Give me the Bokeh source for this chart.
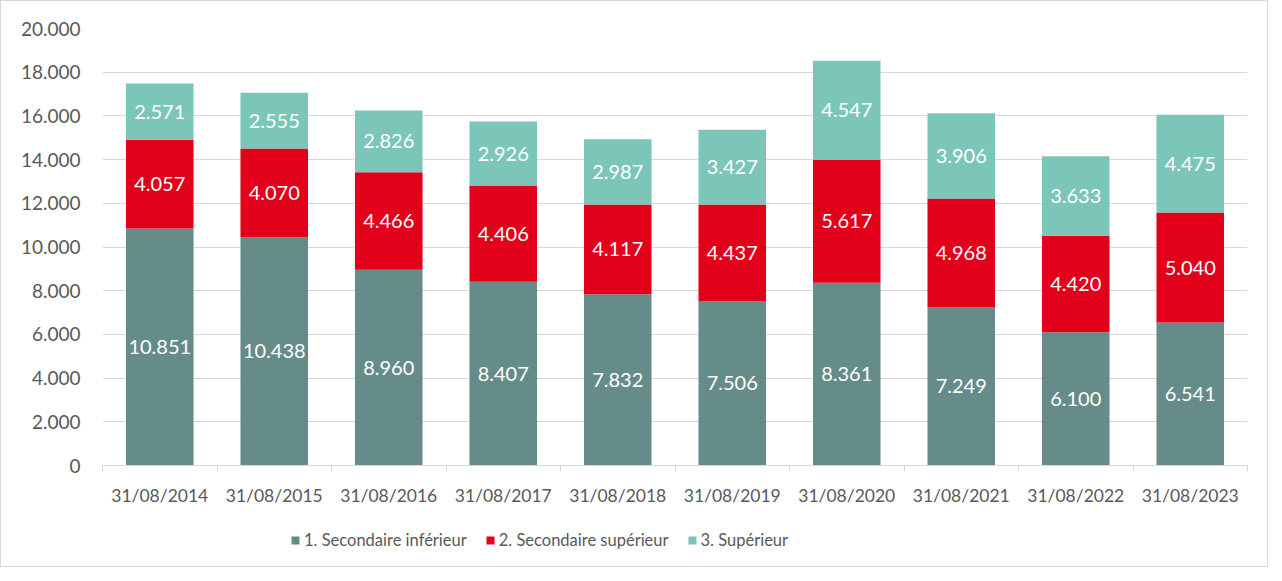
from bokeh.plotting import figure
from bokeh.layouts import column
from bokeh.models import ColumnDataSource, Range1d, FixedTicker, Legend, LegendItem
from bokeh.core.properties import value
from bokeh.embed import file_html
from bokeh.resources import INLINE

dates = ["31/08/2014", "31/08/2015", "31/08/2016", "31/08/2017", "31/08/2018",
         "31/08/2019", "31/08/2020", "31/08/2021", "31/08/2022", "31/08/2023"]
sec_inf = [10851, 10438, 8960, 8407, 7832, 7506, 8361, 7249, 6100, 6541]
sec_sup = [4057, 4070, 4466, 4406, 4117, 4437, 5617, 4968, 4420, 5040]
superieur = [2571, 2555, 2826, 2926, 2987, 3427, 4547, 3906, 3633, 4475]
series_names = ["1. Secondaire inférieur", "2. Secondaire supérieur", "3. Supérieur"]
colors = ["#668C89", "#E2001A", "#7BC6B9"]
y_ticks = list(range(0, 20001, 2000))

FONT = "Lato"
GRAY = "#595959"
W = 1266


def fmt(v):
    return f"{v:,}".replace(",", ".")


xs = [i + 0.5 for i in range(len(dates))]
src = ColumnDataSource(dict(x=xs, a=sec_inf, b=sec_sup, c=superieur))

p = figure(width=W, height=512, output_backend="svg", toolbar_location=None,
           x_range=Range1d(0, len(dates)), y_range=Range1d(0, 20000),
           min_border_left=101, min_border_right=20, min_border_top=27, min_border_bottom=48)
p.outline_line_color = None

p.vbar_stack(["a", "b", "c"], x="x", width=0.59, color=colors, line_color=None, source=src)

# data labels
for vals, base in [(sec_inf, [0] * 10),
                   (sec_sup, sec_inf),
                   (superieur, [a + b for a, b in zip(sec_inf, sec_sup)])]:
    ys = [b + v / 2 for b, v in zip(base, vals)]
    p.text(x=xs, y=ys, text=[fmt(v) for v in vals], text_color="white",
           text_font=value(FONT), text_font_size="20px",
           text_align="center", text_baseline="middle")

# y axis
p.yaxis.ticker = FixedTicker(ticks=y_ticks)
p.yaxis.major_label_overrides = {t: fmt(t) for t in y_ticks}
p.yaxis.axis_line_color = None
p.yaxis.major_tick_line_color = None
p.yaxis.minor_tick_line_color = None
p.yaxis.major_tick_out = 0
p.yaxis.major_label_standoff = 22
p.yaxis.major_label_text_font = FONT
p.yaxis.major_label_text_font_size = "19px"
p.yaxis.major_label_text_color = GRAY

# x axis
p.xaxis.ticker = FixedTicker(ticks=xs, minor_ticks=list(range(len(dates) + 1)))
p.xaxis.major_label_overrides = {x: d for x, d in zip(xs, dates)}
p.xaxis.axis_line_color = "#D9D9D9"
p.xaxis.major_tick_line_color = None
p.xaxis.major_tick_out = 0
p.xaxis.major_tick_in = 0
p.xaxis.minor_tick_line_color = "#D9D9D9"
p.xaxis.minor_tick_in = 0
p.xaxis.minor_tick_out = 6
p.xaxis.major_label_standoff = 13
p.xaxis.major_label_text_font = FONT
p.xaxis.major_label_text_font_size = "17.5px"
p.xaxis.major_label_text_color = GRAY

p.xgrid.grid_line_color = None
p.ygrid.grid_line_color = "#D9D9D9"
p.ygrid.ticker = FixedTicker(ticks=y_ticks)

# legend in a separate strip (frame aligned with the main plot's frame)
lf = figure(width=W, height=53, output_backend="svg", toolbar_location=None,
            x_range=Range1d(0, 1), y_range=Range1d(0, 1),
            x_axis_location=None, y_axis_location=None,
            min_border_left=101, min_border_right=20, min_border_top=0, min_border_bottom=0)
lf.grid.grid_line_color = None
lf.outline_line_color = None
# zero-height placeholder bars outside the visible range, only to carry legend swatches
dummies = [lf.vbar(x=[-10], top=[0], width=0.1, color=c, line_color=None) for c in colors]
legend = Legend(items=[LegendItem(label=n, renderers=[r]) for n, r in zip(series_names, dummies)],
                orientation="horizontal", location=(188, 16),
                label_text_font=FONT, label_text_font_size="16.5px", label_text_color=GRAY,
                glyph_width=10, glyph_height=10, label_standoff=4, spacing=18,
                border_line_color=None, background_fill_alpha=0, margin=0, padding=6)
lf.add_layout(legend, "center")

layout = column(p, lf, spacing=0)
layout.styles = {"border": "1px solid #D9D9D9"}

open("out.html", "w").write(file_html(layout, INLINE))
